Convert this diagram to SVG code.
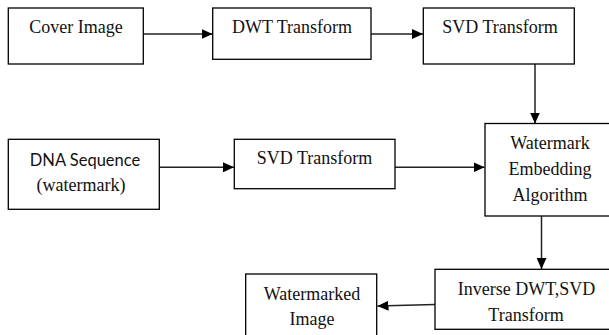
<svg xmlns="http://www.w3.org/2000/svg" width="609" height="335" viewBox="0 0 609 335">
<style>
.box{fill:#fff;stroke:#000;stroke-width:1.3}
.c{stroke:#222;stroke-width:1.5;fill:none;marker-end:url(#ah)}
</style>
<defs>
<marker id="ah" markerUnits="userSpaceOnUse" markerWidth="12" markerHeight="10" refX="11" refY="5" orient="auto">
<path d="M0,0 L11,5 L0,10 Z" fill="#000"/>
</marker>
</defs>
<rect width="609" height="335" fill="#fff"/>
<g id="connectors">
<line class="c" x1="143" y1="34" x2="212.5" y2="34"/>
<line class="c" x1="371" y1="34" x2="423" y2="34"/>
<line class="c" x1="535" y1="64" x2="535" y2="123.5"/>
<line class="c" x1="159" y1="167.3" x2="234" y2="167.3"/>
<line class="c" x1="395" y1="167.3" x2="484.5" y2="167.3"/>
<line class="c" x1="541.5" y1="216" x2="541.5" y2="269"/>
<line class="c" x1="435" y1="304.5" x2="377.5" y2="306"/>
</g>
<g font-family="Liberation Serif" font-size="18" fill="#111" text-anchor="middle">
<g id="cover">
<rect class="box" x="8.3" y="8" width="135" height="56"/>
<text x="76" y="33">Cover Image</text>
</g>
<g id="dwt">
<rect class="box" x="212.7" y="8" width="158.3" height="51.3"/>
<text x="292" y="33">DWT Transform</text>
</g>
<g id="svd1">
<rect class="box" x="423.3" y="8" width="151" height="56"/>
<text x="500" y="33">SVD Transform</text>
</g>
<g id="dna">
<rect class="box" x="8.3" y="139.3" width="151" height="70"/>
<text x="85" y="166" font-family="Lato" font-size="16.5">DNA Sequence</text>
<text x="81" y="191">(watermark)</text>
</g>
<g id="svd2">
<rect class="box" x="234.3" y="139.3" width="160.7" height="49.4"/>
<text x="314.5" y="163.5">SVD Transform</text>
</g>
<g id="embed">
<rect class="box" x="485" y="123.5" width="135" height="92.5"/>
<text x="550" y="148.5">Watermark</text>
<text x="550" y="174.5">Embedding</text>
<text x="550" y="200.5">Algorithm</text>
</g>
<g id="inverse">
<rect class="box" x="435" y="269.3" width="185" height="60"/>
<text x="526.5" y="295">Inverse DWT,SVD</text>
<text x="526" y="321">Transform</text>
</g>
<g id="watermarked">
<rect class="box" x="245.7" y="274" width="131" height="70"/>
<text x="312" y="300">Watermarked</text>
<text x="312" y="325">Image</text>
</g>
</g>
</svg>
